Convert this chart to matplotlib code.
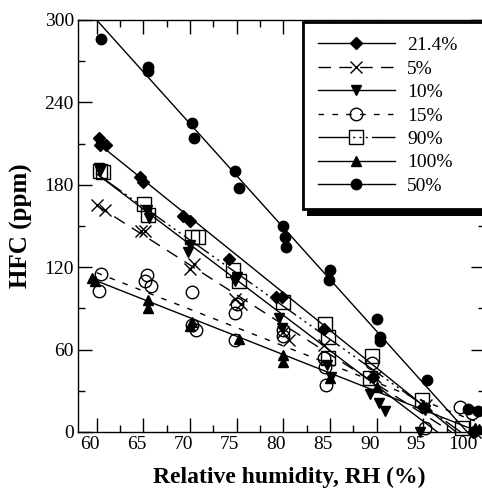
import matplotlib
matplotlib.use("Agg")
import matplotlib.pyplot as plt
import numpy as np
from matplotlib.lines import Line2D
from matplotlib.patches import Rectangle
from matplotlib.ticker import MultipleLocator
from matplotlib.transforms import ScaledTranslation

plt.rcParams['font.family'] = ['Liberation Serif', 'DejaVu Serif']

# --- data ---
labels = ['21.4%', '5%', '10%', '15%', '90%', '100%', '50%']

x_214 = [60.2, 60.4, 61.0, 64.6, 65.0, 69.2, 70.0, 74.2, 79.2, 79.8, 84.3, 89.6, 95.0, 100.3]
y_214 = [214, 209, 209, 186, 182, 157, 154, 126, 98, 98, 75, 40, 18, 0]

x_5 = [60.0, 60.9, 64.8, 65.2, 70.0, 70.4, 74.8, 75.5, 80.0, 80.6, 84.4, 89.8, 95.3, 100.5]
y_5 = [165, 162, 146, 146, 119, 122, 97, 93, 73, 67, 63, 40, 20, 0]

x_10 = [60.2, 60.4, 65.4, 65.6, 69.8, 70.0, 74.8, 75.0, 79.5, 79.8, 84.7, 85.1, 89.3, 90.2, 90.9, 94.6, 95.2, 100.6]
y_10 = [192, 190, 162, 156, 131, 136, 110, 113, 83, 76, 49, 40, 28, 21, 15, 0, 16, 0]

x_15 = [60.5, 60.2, 65.4, 65.2, 65.8, 70.2, 70.2, 70.6, 74.8, 74.8, 75.0, 80.0, 80.0, 84.5, 84.6, 84.3, 89.5, 95.2, 98.9, 100.2]
y_15 = [115, 103, 114, 110, 106, 102, 78, 74, 67, 87, 93, 74, 70, 47, 34, 54, 50, 3, 18, 14]

x_90 = [60.4, 60.7, 65.1, 65.5, 70.2, 70.9, 74.6, 75.2, 80.0, 84.5, 84.8, 84.8, 89.5, 89.3, 94.8, 99.1]
y_90 = [190, 189, 166, 158, 142, 142, 118, 110, 95, 79, 69, 54, 55, 39, 23, 3]

x_100 = [59.5, 59.8, 65.5, 65.5, 70.2, 70.0, 75.2, 80.0, 80.0, 85.0, 90.0, 95.3, 100.5, 101.0]
y_100 = [112, 110, 96, 90, 80, 77, 68, 56, 51, 39, 33, 18, 3, 2]

x_50 = [60.5, 65.5, 65.5, 70.2, 70.4, 74.8, 75.3, 80.0, 80.2, 80.3, 85.0, 84.9, 90.0, 90.3, 90.4, 95.4, 99.8, 100.9]
y_50 = [286, 266, 263, 225, 214, 190, 178, 150, 142, 135, 118, 111, 82, 69, 66, 38, 17, 15]

# fitted lines as drawn in the figure: (x start, y start) -> (x end, y end)
fit_x0 = [60, 60, 60, 60, 60, 60, 60]
fit_y0 = [211, 165, 188, 116, 188, 110, 300]
fit_x1 = [98.5, 98.0, 96.5, 100.5, 99.0, 101.0, 99.7]
fit_y1 = [0, 0, 0, 8, 0, 0, 0]

xs = [x_214, x_5, x_10, x_15, x_90, x_100, x_50]
ys = [y_214, y_5, y_10, y_15, y_90, y_100, y_50]

markers = ['D', 'x', 'v', 'o', 's', '^', 'o']
msizes = [6, 8, 7, 9, 10, 7, 7.5]
mfaces = ['k', 'k', 'k', 'none', 'none', 'k', 'k']
lstyles = ['-', (0, (9, 6)), '-', (0, (4, 6)), (0, (22, 3, 1.5, 3, 1.5, 3, 1.5, 3)), '-', '-']

fig = plt.figure(figsize=(4.82, 4.88), dpi=100)
ax = fig.add_axes([78/482, 56/488, (485-78)/482, 412/488])

handles = []
for i in range(len(labels)):
    ax.plot(xs[i], ys[i], linestyle='none', marker=markers[i], ms=msizes[i],
            mfc=mfaces[i], mec='k', mew=1, clip_on=False, zorder=3)
    ax.plot([fit_x0[i], fit_x1[i]], [fit_y0[i], fit_y1[i]], color='k', lw=1,
            linestyle=lstyles[i], zorder=2)
    handles.append(Line2D([], [], color='k', lw=1, linestyle=lstyles[i], marker=markers[i],
                          ms=msizes[i], mfc=mfaces[i], mec='k', mew=1))

ax.set_xlim(58, 101.6)
ax.set_ylim(0, 300)
ax.xaxis.set_major_locator(MultipleLocator(5))
ax.xaxis.set_minor_locator(MultipleLocator(2.5))
ax.yaxis.set_major_locator(MultipleLocator(60))
ax.yaxis.set_minor_locator(MultipleLocator(30))
ax.tick_params(which='both', direction='in', top=True, right=True, labelsize=14, pad=3)
ax.tick_params(which='major', length=10, width=1)
ax.tick_params(which='minor', length=5, width=1)
for s in ax.spines.values():
    s.set_linewidth(1)

shift = ScaledTranslation(-5/72, 0, fig.dpi_scale_trans)
for lab in ax.get_xticklabels():
    lab.set_transform(lab.get_transform() + shift)

ax.set_xlabel('Relative humidity, RH (%)', fontsize=17, fontweight='bold', labelpad=9)
ax.xaxis.set_label_coords(0.52, -0.085)
ax.set_ylabel('HFC (ppm)', fontsize=18, fontweight='bold', labelpad=8)

leg = fig.legend(handles, labels, loc='upper left',
                 bbox_to_anchor=(303/482, 1 - 22/488, 200/482, 0), mode='expand',
                 fontsize=14, handlelength=4.0, handletextpad=0.6, labelspacing=0.3,
                 borderpad=0.75, borderaxespad=0, frameon=True, fancybox=False,
                 framealpha=1)
leg.get_frame().set_edgecolor('k')
leg.get_frame().set_facecolor('white')
leg.get_frame().set_linewidth(2)
leg.set_zorder(5)

fig.canvas.draw()
bb = leg.get_window_extent()
shadow = Rectangle((bb.x0 + 4, bb.y0 - 7), bb.width, bb.height, transform=None,
                   facecolor='k', edgecolor='none', zorder=4)
fig.patches.append(shadow)

fig.savefig('out.png', dpi=100)
